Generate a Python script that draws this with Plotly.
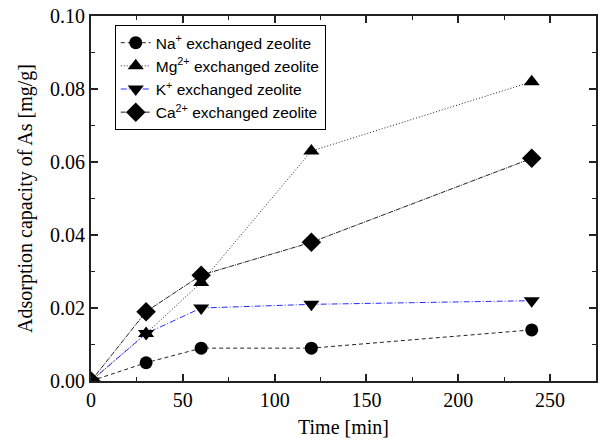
import plotly.graph_objects as go

# Contact time [min]
time_min = [0, 30, 60, 120, 240]

# Adsorption capacity of As [mg/g] for each exchanged zeolite
na_values = [0.0, 0.005, 0.009, 0.009, 0.014]
mg_values = [0.0, 0.013, 0.027, 0.063, 0.082]
k_values = [0.0, 0.013, 0.020, 0.021, 0.022]
ca_values = [0.0, 0.019, 0.029, 0.038, 0.061]

series_names = [
    "Na<sup>+</sup> exchanged zeolite",
    "Mg<sup>2+</sup> exchanged zeolite",
    "K<sup>+</sup> exchanged zeolite",
    "Ca<sup>2+</sup> exchanged zeolite",
]

x_ticks = [0, 50, 100, 150, 200, 250]
y_ticks = [0.00, 0.02, 0.04, 0.06, 0.08, 0.10]

styles = [
    dict(symbol="circle", size=13, color="#222", dash="4px,3px"),
    dict(symbol="triangle-up", size=14, color="#222", dash="1px,2px"),
    dict(symbol="triangle-down", size=14, color="#2a2aff", dash="6px,2px,1px,2px"),
    dict(symbol="diamond", size=15, color="#222", dash="5px,1px,1px,1px"),
]

fig = go.Figure()
for name, vals, st in zip(series_names, [na_values, mg_values, k_values, ca_values], styles):
    fig.add_trace(go.Scatter(
        x=time_min, y=vals, name=name, mode="lines+markers",
        line=dict(color=st["color"], width=1, dash=st["dash"]),
        marker=dict(symbol=st["symbol"], size=st["size"], color="black",
                    line=dict(width=0)),
        cliponaxis=True,
        legendgroup=name,
    ))

serif = "Times New Roman, Liberation Serif, serif"
axis_common = dict(
    showline=True, linecolor="#222", linewidth=2, mirror="ticks",
    ticks="inside", ticklen=7, tickwidth=1.5, tickcolor="#222",
    showgrid=False, zeroline=False,
    tickfont=dict(family=serif, size=20, color="black"),
    title_font=dict(family=serif, size=20, color="black"),
)

fig.update_xaxes(
    range=[0, 275], tickvals=x_ticks, ticktext=[str(v) for v in x_ticks],
    minor=dict(ticks="inside", ticklen=4, tickwidth=1.2, tickcolor="#222", dtick=25),
    title_text="Time [min]", title_standoff=10,
    **axis_common,
)
fig.update_yaxes(
    range=[0, 0.1], tickvals=y_ticks, ticktext=[f"{v:.2f}" for v in y_ticks],
    minor=dict(ticks="inside", ticklen=4, tickwidth=1.2, tickcolor="#222", dtick=0.01),
    title_text="Adsorption capacity of As [mg/g]", title_standoff=12,
    **axis_common,
)

fig.update_layout(
    width=600, height=440,
    margin=dict(l=91, r=2, t=16, b=59),
    paper_bgcolor="white", plot_bgcolor="white",
    showlegend=True,
    legend=dict(
        x=0.047, y=0.975, xanchor="left", yanchor="top",
        bordercolor="black", borderwidth=1, bgcolor="white",
        font=dict(family="Arial, Liberation Sans, sans-serif", size=15.5, color="black"),
        traceorder="grouped", tracegroupgap=0,
        itemwidth=30,
    ),
)

fig.write_html("out.html")
